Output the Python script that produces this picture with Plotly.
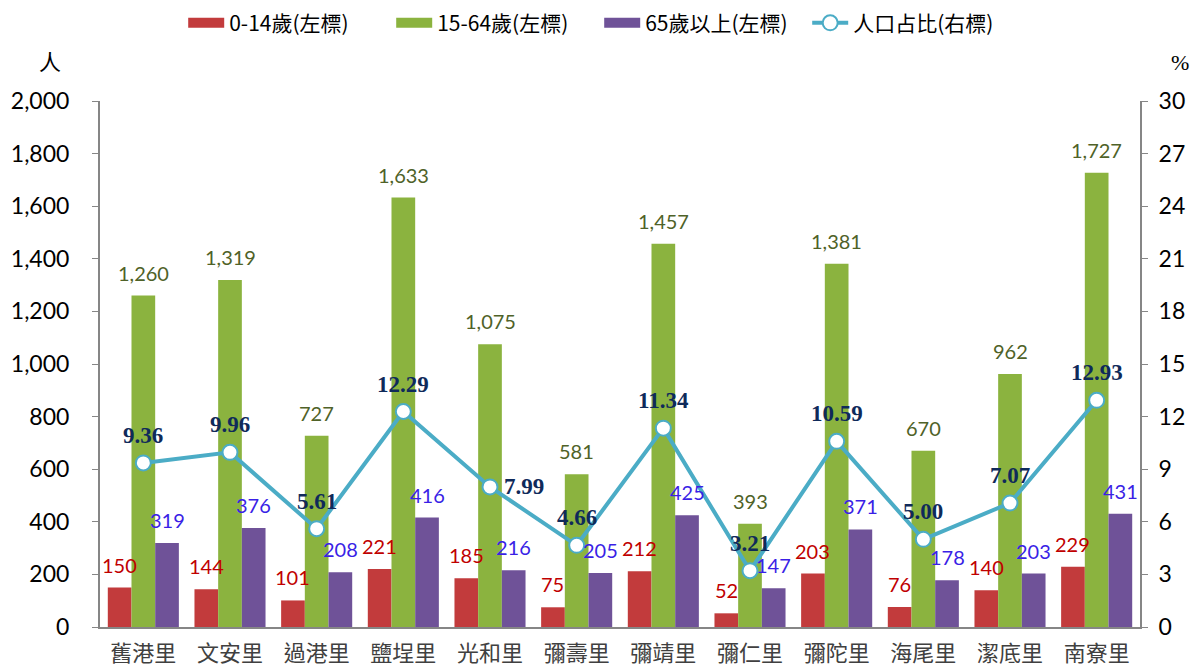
import plotly.graph_objects as go

categories = ["舊港里", "文安里", "過港里", "鹽埕里", "光和里", "彌壽里", "彌靖里", "彌仁里", "彌陀里", "海尾里", "潔底里", "南寮里"]
age_0_14 = [150, 144, 101, 221, 185, 75, 212, 52, 203, 76, 140, 229]
age_15_64 = [1260, 1319, 727, 1633, 1075, 581, 1457, 393, 1381, 670, 962, 1727]
age_65_plus = [319, 376, 208, 416, 216, 205, 425, 147, 371, 178, 203, 431]
pop_share = [9.36, 9.96, 5.61, 12.29, 7.99, 4.66, 11.34, 3.21, 10.59, 5.00, 7.07, 12.93]
series_names = ["0-14歲(左標)", "15-64歲(左標)", "65歲以上(左標)", "人口占比(右標)"]

num_font = "Lato"
cjk_font = "Noto Sans CJK TC"
bar_colors = ["#c23b3c", "#8bb33f", "#6f5298"]
label_colors = ["#c00000", "#4f6228", "#3a1fe6"]
line_color = "#4bacc6"

# figure geometry (page body has an 8px margin)
W, H = 1192, 661
ML, MR, MT, MB = 92, 60, 93, 42
plot_w = W - ML - MR
bargap = 0.18
bar_px = plot_w / len(categories) * (1 - bargap) / 3

fig = go.Figure()
all_vals = [age_0_14, age_15_64, age_65_plus]
for vals, name, bc in zip(all_vals, series_names[:3], bar_colors):
    fig.add_trace(go.Bar(
        x=categories, y=vals, name=name, showlegend=False,
        marker=dict(color=bc, line=dict(width=0)),
    ))

fig.add_trace(go.Scatter(
    x=categories, y=pop_share, name=series_names[3], yaxis="y2", showlegend=False,
    mode="lines+markers",
    line=dict(color=line_color, width=4),
    marker=dict(size=15, color="white", line=dict(color=line_color, width=2)),
    cliponaxis=False,
))

# legend entries
for name, bc in zip(series_names[:3], bar_colors):
    fig.add_trace(go.Scatter(x=[None], y=[None], name=name, mode="lines",
                             line=dict(color=bc, width=15)))
fig.add_trace(go.Scatter(x=[None], y=[None], name=series_names[3], mode="lines+markers", yaxis="y2",
                         line=dict(color=line_color, width=4),
                         marker=dict(size=15, color="white", line=dict(color=line_color, width=2))))

# bar value labels
for k, (vals, lc) in enumerate(zip(all_vals, label_colors)):
    for c, v in zip(categories, vals):
        fig.add_annotation(x=c, y=v, xref="x", yref="y", text=f"{v:,}", showarrow=False,
                           xanchor="center", yanchor="bottom", yshift=9, xshift=(k - 1) * bar_px,
                           font=dict(color=lc, size=20, family=num_font))

# line value labels
lab_font = dict(color="#0f2a5a", size=23, family="Liberation Serif", weight="bold")
for i, (c, v) in enumerate(zip(categories, pop_share)):
    if i == 4:
        fig.add_annotation(x=c, y=v, xref="x", yref="y2", text=f"{v:.2f}", showarrow=False,
                           xanchor="left", yanchor="middle", xshift=12, font=lab_font)
    else:
        fig.add_annotation(x=c, y=v, xref="x", yref="y2", text=f"{v:.2f}", showarrow=False,
                           xanchor="center", yanchor="bottom", yshift=13, font=lab_font)

fig.update_layout(
    width=W, height=H,
    margin=dict(l=ML, r=MR, t=MT, b=MB),
    plot_bgcolor="white", paper_bgcolor="white",
    barmode="group", bargap=bargap, bargroupgap=0,
    legend=dict(orientation="h", x=0.48, xanchor="center", y=0.977, yanchor="middle",
                yref="container", font=dict(size=21, family=cjk_font, color="#000"),
                itemwidth=36, traceorder="normal", entrywidth=157, entrywidthmode="pixels"),
    xaxis=dict(range=[-0.5, 11.5], showline=True, linecolor="#868686", linewidth=2, ticks="",
               automargin=False, ticklabelstandoff=6,
               tickfont=dict(size=22, family=cjk_font, color="#404040")),
    yaxis=dict(range=[0, 2000], dtick=200, tickformat=",", showgrid=False, automargin=False,
               showline=True, linecolor="#868686", linewidth=2, ticks="outside",
               ticklen=6, tickcolor="#868686", ticklabelstandoff=18,
               tickfont=dict(size=23, family=num_font, color="#000"), zeroline=False),
    yaxis2=dict(range=[0, 30], dtick=3, overlaying="y", side="right", showgrid=False, automargin=False,
                showline=True, linecolor="#868686", linewidth=2, ticks="outside",
                ticklen=6, tickcolor="#868686", ticklabelstandoff=6,
                tickfont=dict(size=23, family=num_font, color="#000"), zeroline=False),
)
fig.add_annotation(text="人", x=-0.048, y=1.078, xref="paper", yref="paper", showarrow=False,
                   xanchor="center", yanchor="middle",
                   font=dict(size=22, family=cjk_font, color="#000"))
fig.add_annotation(text="%", x=1.0385, y=1.074, xref="paper", yref="paper", showarrow=False,
                   xanchor="center", yanchor="middle",
                   font=dict(size=22, family="Liberation Serif", color="#000"))
fig.write_html("out.html")
